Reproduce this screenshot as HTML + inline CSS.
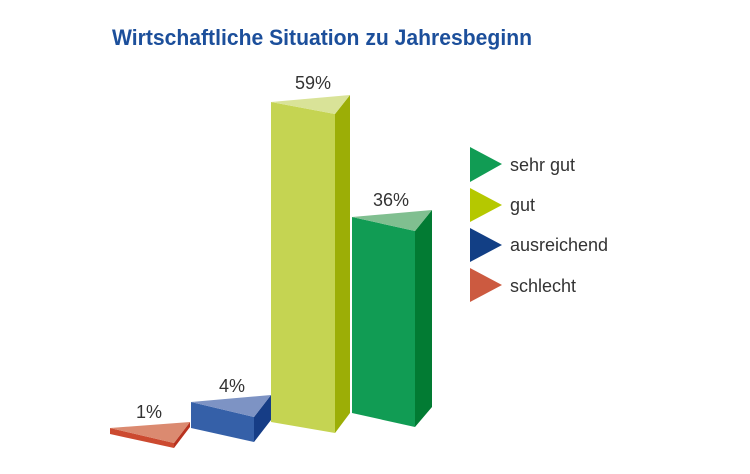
<!DOCTYPE html>
<html><head><meta charset="utf-8"><style>
html,body{margin:0;padding:0;background:#fff;}
svg{display:block;}
text{font-family:"Liberation Sans",sans-serif;}
</style></head><body>
<svg width="750" height="474" viewBox="0 0 750 474" xmlns="http://www.w3.org/2000/svg">
<text x="112" y="45" font-size="22" font-weight="bold" fill="#1c4f9b" textLength="420" lengthAdjust="spacingAndGlyphs">Wirtschaftliche Situation zu Jahresbeginn</text>
<!-- red -->
<polygon points="110,428 174,443 174,448 110,434" fill="#cc4a30"/>
<polygon points="174,443 190,422 190,427 174,448" fill="#b8321f"/>
<polygon points="110,428 190,422 174,443" fill="#db8a70"/>
<!-- blue -->
<polygon points="191,402 254,417 254,442 191,428" fill="#3560a8"/>
<polygon points="254,417 271,395 271,420 254,442" fill="#163d86"/>
<polygon points="191,402 271,395 254,417" fill="#7d93c4"/>
<!-- yellow -->
<polygon points="271,102 335,114 335,433 271,422" fill="#c5d452"/>
<polygon points="335,114 350,95 350,413 335,433" fill="#9cae06"/>
<polygon points="271,102 350,95 335,114" fill="#d9e398"/>
<!-- green -->
<polygon points="352,217 415,231 415,427 352,413" fill="#119c54"/>
<polygon points="415,231 432,210 432,407 415,427" fill="#027b33"/>
<polygon points="352,217 432,210 415,231" fill="#80bf90"/>
<!-- labels -->
<g font-size="18" fill="#333" text-anchor="middle">
<text x="313" y="89">59%</text>
<text x="391" y="206">36%</text>
<text x="232" y="392">4%</text>
<text x="149" y="418">1%</text>
</g>
<!-- legend -->
<polygon points="470,147 502,164 470,182" fill="#119c54"/>
<polygon points="470,188 502,205 470,222" fill="#b5c800"/>
<polygon points="470,228 502,245 470,262" fill="#123f85"/>
<polygon points="470,268 502,285 470,302" fill="#cc5a40"/>
<g font-size="18" fill="#333">
<text x="510" y="171">sehr gut</text>
<text x="510" y="211">gut</text>
<text x="510" y="251">ausreichend</text>
<text x="510" y="292">schlecht</text>
</g>
</svg>
</body></html>
